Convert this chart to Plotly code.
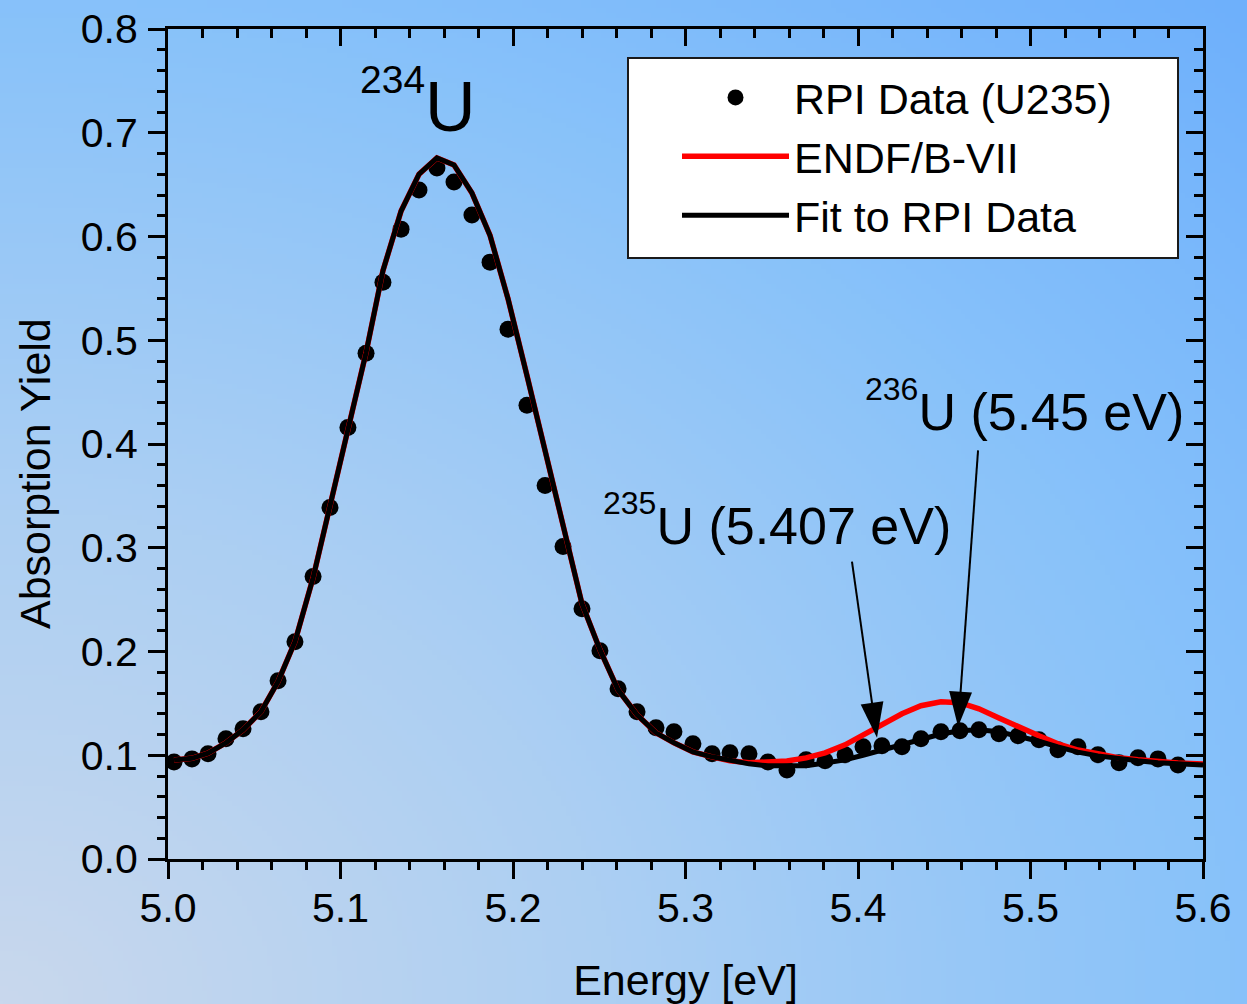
import base64
import struct
import zlib

import numpy as np
import plotly.graph_objects as go

# ---------------- data ----------------
energy = [5.0035, 5.0139, 5.0232, 5.0336, 5.0435, 5.0539, 5.0638, 5.0736, 5.0841, 5.0939,
          5.1043, 5.1148, 5.1246, 5.1351, 5.1455, 5.1559, 5.1658, 5.1762, 5.1867, 5.1971,
          5.2081, 5.2186, 5.2290, 5.2400, 5.2504, 5.2609, 5.2719, 5.2829, 5.2933, 5.3043,
          5.3154, 5.3258, 5.3368, 5.3478, 5.3588, 5.3699, 5.3809, 5.3925, 5.4029, 5.4139,
          5.4255, 5.4365, 5.4481, 5.4591, 5.4701, 5.4817, 5.4928, 5.5049, 5.5159, 5.5275,
          5.5391, 5.5513, 5.5623, 5.5739, 5.5855]

rpi_yield = [0.0936, 0.0965, 0.1014, 0.1158, 0.1255, 0.1419, 0.1718, 0.2095, 0.2722, 0.3388,
             0.4160, 0.4875, 0.5560, 0.6071, 0.6448, 0.6660, 0.6525, 0.6207, 0.5753, 0.5106,
             0.4373, 0.3600, 0.3012, 0.2413, 0.2008, 0.1641, 0.1419, 0.1264, 0.1226, 0.1110,
             0.1014, 0.1023, 0.1014, 0.0936, 0.0859, 0.0956, 0.0946, 0.1004, 0.1081, 0.1091,
             0.1081, 0.1158, 0.1226, 0.1236, 0.1245, 0.1207, 0.1187, 0.1149, 0.1052, 0.1081,
             0.1004, 0.0927, 0.0975, 0.0965, 0.0907]

curve_energy = [5.0035, 5.0139, 5.0232, 5.0336, 5.0435, 5.0539, 5.0638, 5.0736, 5.0841, 5.0939,
                5.1043, 5.1148, 5.1246, 5.1351, 5.1455, 5.1559, 5.1658, 5.1762, 5.1867, 5.1971,
                5.2081, 5.2186, 5.2290, 5.2400, 5.2504, 5.2609, 5.2719, 5.2829, 5.2933, 5.3043,
                5.3154, 5.3258, 5.3368, 5.3478, 5.3588, 5.3699, 5.3809, 5.3925, 5.4029, 5.4139,
                5.4255, 5.4365, 5.4481, 5.4591, 5.4701, 5.4817, 5.4928, 5.5049, 5.5159, 5.5275,
                5.5391, 5.5513, 5.5623, 5.5739, 5.5855, 5.6000]

fit_yield = [0.0955, 0.0970, 0.1020, 0.1120, 0.1245, 0.1420, 0.1710, 0.2095, 0.2710, 0.3390,
             0.4160, 0.4880, 0.5670, 0.6245, 0.6600, 0.6757, 0.6690, 0.6420, 0.6010, 0.5400,
             0.4660, 0.3930, 0.3200, 0.2460, 0.2017, 0.1630, 0.1390, 0.1216, 0.1120, 0.1033,
             0.0985, 0.0946, 0.0917, 0.0898, 0.0895, 0.0900, 0.0925, 0.0955, 0.1000, 0.1050,
             0.1100, 0.1155, 0.1205, 0.1236, 0.1245, 0.1226, 0.1187, 0.1135, 0.1080, 0.1030,
             0.0994, 0.0965, 0.0946, 0.0927, 0.0917, 0.0907]

endf_yield = [0.0955, 0.0970, 0.1020, 0.1120, 0.1245, 0.1420, 0.1710, 0.2095, 0.2710, 0.3390,
              0.4160, 0.4880, 0.5670, 0.6245, 0.6600, 0.6757, 0.6690, 0.6420, 0.6010, 0.5400,
              0.4660, 0.3930, 0.3200, 0.2460, 0.2017, 0.1630, 0.1390, 0.1216, 0.1120, 0.1033,
              0.0985, 0.0946, 0.0927, 0.0936, 0.0945, 0.0975, 0.1023, 0.1100, 0.1197, 0.1300,
              0.1400, 0.1477, 0.1515, 0.1506, 0.1448, 0.1360, 0.1274, 0.1187, 0.1110, 0.1050,
              0.1014, 0.0975, 0.0956, 0.0936, 0.0925, 0.0915]

x_ticks = [5.0, 5.1, 5.2, 5.3, 5.4, 5.5, 5.6]
x_tick_labels = ["5.0", "5.1", "5.2", "5.3", "5.4", "5.5", "5.6"]
y_ticks = [0.0, 0.1, 0.2, 0.3, 0.4, 0.5, 0.6, 0.7, 0.8]
y_tick_labels = ["0.0", "0.1", "0.2", "0.3", "0.4", "0.5", "0.6", "0.7", "0.8"]

# arrow pointers: (tail energy, tail yield) -> (tip energy, tip yield)
arrow_235_x = [5.3965, 5.4110]
arrow_235_y = [0.2867, 0.1168]
arrow_236_x = [5.4696, 5.4580]
arrow_236_y = [0.3938, 0.1274]

FONT = "Liberation Sans, Arial, Helvetica, sans-serif"

# ---------------- background gradient image ----------------
W, H = 250, 200
u = np.linspace(0, 1, W)[None, :]
v = 1 - np.linspace(0, 1, H)[:, None]
d = np.sqrt(u ** 2 + v ** 2) / np.sqrt(2)
stops = [0.0, 0.35, 0.7, 1.0]
cols = np.array([[201, 216, 237], [172, 207, 243], [136, 194, 250], [110, 176, 252]], float)
img = np.stack([np.interp(d, stops, cols[:, c]) for c in range(3)], axis=-1).astype(np.uint8)
raw = b"".join(b"\x00" + img[r].tobytes() for r in range(H))


def _chunk(t, data):
    return struct.pack(">I", len(data)) + t + data + struct.pack(">I", zlib.crc32(t + data) & 0xffffffff)


png = (b"\x89PNG\r\n\x1a\n" + _chunk(b"IHDR", struct.pack(">IIBBBBB", W, H, 8, 2, 0, 0, 0))
       + _chunk(b"IDAT", zlib.compress(raw, 9)) + _chunk(b"IEND", b""))
bg_src = "data:image/png;base64," + base64.b64encode(png).decode()

# ---------------- figure ----------------
FIG_W, FIG_H = 1247, 1004
ML, MR, MT, MB = 168, 44, 29, 145
PW, PH = FIG_W - ML - MR, FIG_H - MT - MB


def px2paper_x(px):
    return (px - ML) / PW


def px2paper_y(py):
    return (FIG_H - MB - py) / PH


fig = go.Figure()

fig.add_trace(go.Scatter(x=energy, y=rpi_yield, mode="markers", name="RPI Data (U235)",
                         marker=dict(color="black", size=17, line=dict(width=0))))
fig.add_trace(go.Scatter(x=curve_energy, y=endf_yield, mode="lines", name="ENDF/B-VII",
                         line=dict(color="#ff0000", width=5.5)))
fig.add_trace(go.Scatter(x=curve_energy, y=fit_yield, mode="lines", name="Fit to RPI Data",
                         line=dict(color="black", width=5)))

for ax_, ay_ in ((arrow_235_x, arrow_235_y), (arrow_236_x, arrow_236_y)):
    fig.add_trace(go.Scatter(x=ax_, y=ay_, mode="lines+markers", showlegend=False, hoverinfo="skip",
                             line=dict(color="black", width=2),
                             marker=dict(symbol="arrow", size=[0, 37], angleref="previous",
                                         color="black", opacity=1, line=dict(width=0))))

# dummy trace for the mirrored (top/right) axes
fig.add_trace(go.Scatter(x=[None], y=[None], xaxis="x2", yaxis="y2", showlegend=False, hoverinfo="skip"))

axis_common = dict(showgrid=False, zeroline=False, showline=True, linecolor="black", linewidth=3,
                   tickcolor="black", tickwidth=3, automargin=False)

fig.update_layout(
    width=FIG_W, height=FIG_H, autosize=False,
    margin=dict(l=ML, r=MR, t=MT, b=MB, pad=0),
    paper_bgcolor="#93c6f7", plot_bgcolor="rgba(0,0,0,0)",
    font=dict(family=FONT, color="black"),
    showlegend=True,
    xaxis=dict(range=[5.0, 5.6], tickvals=x_ticks, ticktext=x_tick_labels, ticks="outside", ticklen=17,
               tickfont=dict(size=41, family=FONT), anchor="y", ticklabelstandoff=-6,
               title=dict(text="Energy [eV]", font=dict(size=43, family=FONT), standoff=37),
               minor=dict(dtick=0.02, tick0=5.0, ticks="outside", ticklen=8, tickwidth=3,
                          tickcolor="black", showgrid=False),
               **axis_common),
    yaxis=dict(range=[0, 0.8], tickvals=y_ticks, ticktext=y_tick_labels, ticks="outside", ticklen=17,
               tickfont=dict(size=41, family=FONT), anchor="x", ticklabelstandoff=2,
               minor=dict(dtick=0.02, tick0=0, ticks="outside", ticklen=8, tickwidth=3,
                          tickcolor="black", showgrid=False),
               **axis_common),
    xaxis2=dict(range=[5.0, 5.6], overlaying="x", side="top", anchor="y2", tickvals=x_ticks,
                ticks="inside", ticklen=17, showticklabels=False,
                minor=dict(dtick=0.02, tick0=5.0, ticks="inside", ticklen=9, tickwidth=3,
                           tickcolor="black", showgrid=False),
                **axis_common),
    yaxis2=dict(range=[0, 0.8], overlaying="y", side="right", anchor="x2", tickvals=y_ticks,
                ticks="inside", ticklen=17, showticklabels=False,
                minor=dict(dtick=0.02, tick0=0, ticks="inside", ticklen=9, tickwidth=3,
                           tickcolor="black", showgrid=False),
                **axis_common),
    legend=dict(x=px2paper_x(677), y=px2paper_y(63), xanchor="left", yanchor="top",
                bgcolor="rgba(0,0,0,0)", borderwidth=0, itemwidth=107, tracegroupgap=0,
                font=dict(size=43, family=FONT, color="black")),
    images=[dict(source=bg_src, xref="paper", yref="paper",
                 x=-ML / PW, y=1 + MT / PH, sizex=FIG_W / PW, sizey=FIG_H / PH,
                 xanchor="left", yanchor="top", sizing="stretch", layer="below")],
    shapes=[dict(type="rect", xref="paper", yref="paper",
                 x0=px2paper_x(628), x1=px2paper_x(1178), y0=px2paper_y(258), y1=px2paper_y(58),
                 fillcolor="white", line=dict(color="#1a1a1a", width=2), layer="above")],
    annotations=[
        dict(text="Absorption Yield", xref="paper", yref="paper", x=px2paper_x(35), y=px2paper_y(474),
             textangle=-90, showarrow=False, xanchor="center", yanchor="middle",
             font=dict(size=43, family=FONT, color="black")),
        dict(text='<sup><span style="font-size:39px">234</span></sup><span style="font-size:70px">U</span>',
             x=5.1449, y=0.730, xref="x", yref="y", showarrow=False, xanchor="center", yanchor="middle",
             font=dict(size=90, family=FONT, color="black")),
        dict(text='<sup><span style="font-size:32px">235</span></sup><span style="font-size:52px">U (5.407 eV)</span>',
             x=5.3530, y=0.327, xref="x", yref="y", showarrow=False, xanchor="center", yanchor="middle",
             font=dict(size=72, family=FONT, color="black")),
        dict(text='<sup><span style="font-size:32px">236</span></sup><span style="font-size:52px">U (5.45 eV)</span>',
             x=5.4968, y=0.4367, xref="x", yref="y", showarrow=False, xanchor="center", yanchor="middle",
             font=dict(size=72, family=FONT, color="black")),
    ],
)

fig.write_html("out.html", config={"displayModeBar": False})
